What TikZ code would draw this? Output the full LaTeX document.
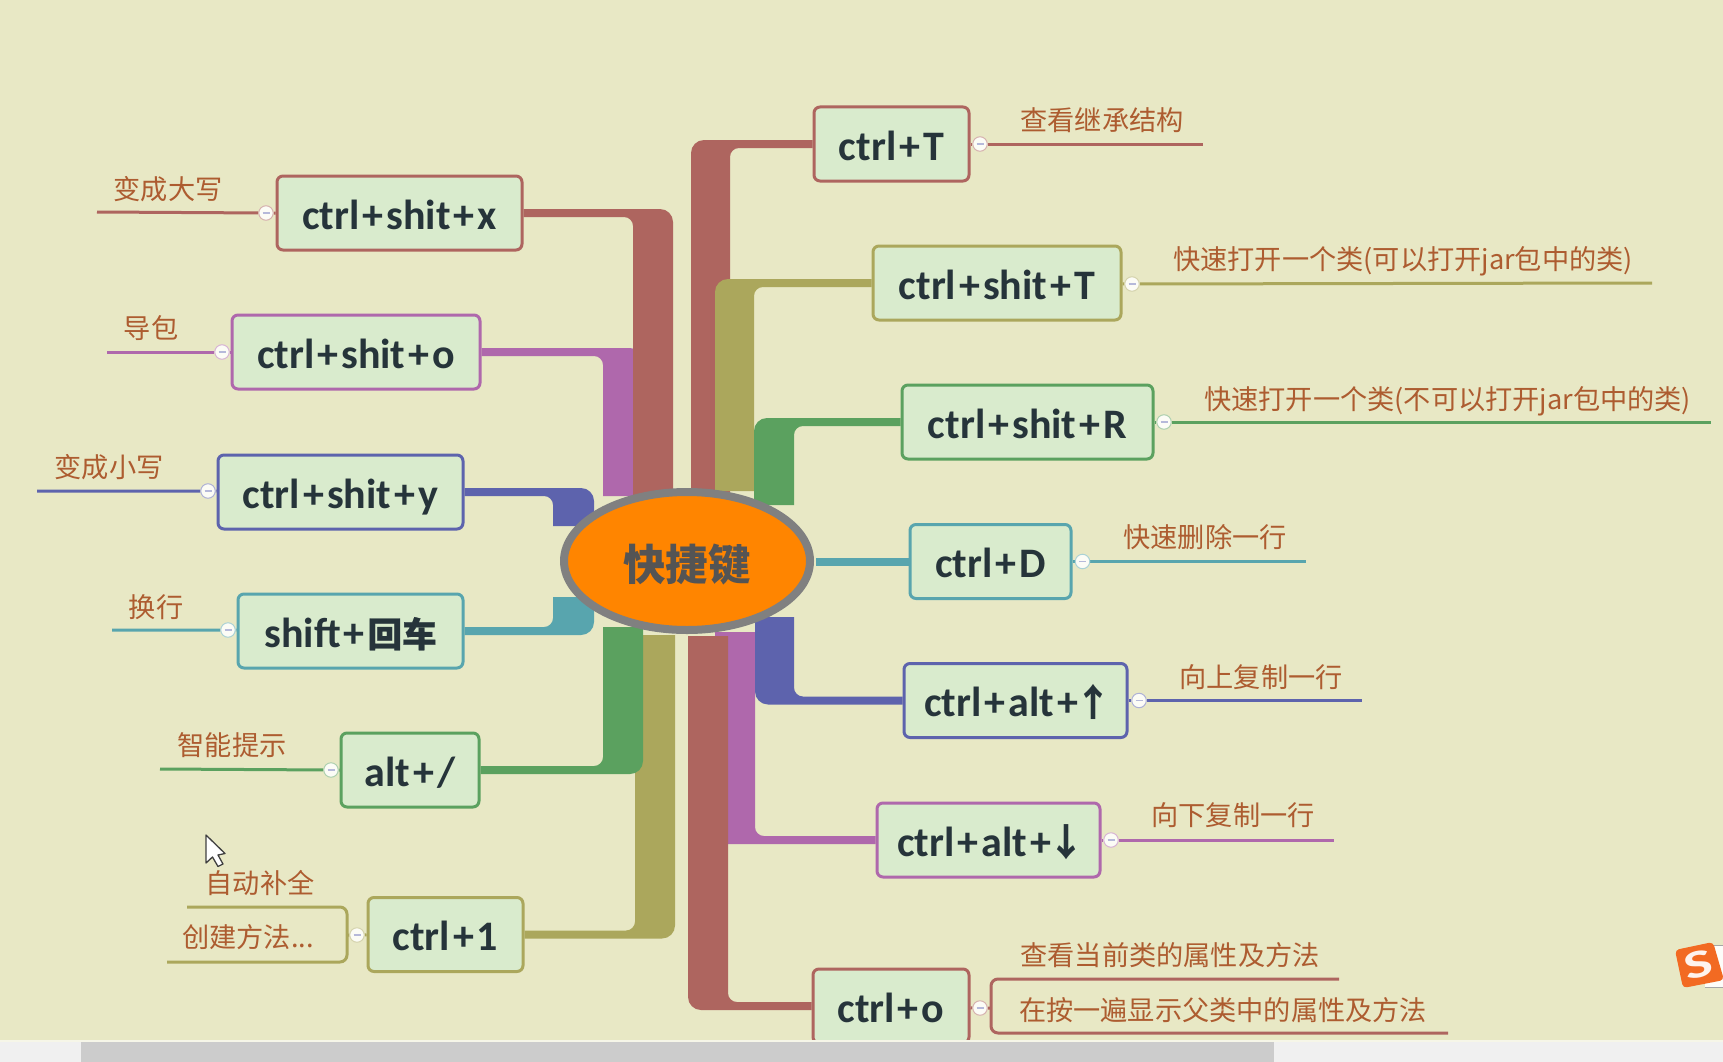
\documentclass[tikz,border=0pt]{standalone}
\usepackage{fontspec}
\setmainfont{Carlito}
\newfontfamily\cjk{Noto Sans CJK SC}
\newfontfamily\cjkm[FakeBold=0.8]{Noto Sans CJK SC}
\usetikzlibrary{calc,shapes.geometric}
\pgfdeclarelayer{back}
\pgfdeclarelayer{rib}
\pgfsetlayers{back,rib,main}
\definecolor{bg}{HTML}{E8E8C5}
\definecolor{cred}{HTML}{AE655F}
\definecolor{colive}{HTML}{ABA75C}
\definecolor{cgreen}{HTML}{5BA15F}
\definecolor{cteal}{HTML}{58A5AE}
\definecolor{cblue}{HTML}{5D63AD}
\definecolor{cviolet}{HTML}{AF68AC}
\definecolor{boxfill}{HTML}{D9EBCD}
\definecolor{keytext}{HTML}{26343A}
\definecolor{leaftext}{HTML}{AD5C30}
\definecolor{huborange}{HTML}{FF8500}
\definecolor{imeorange}{HTML}{F26A22}
\tikzset{
  kbox/.style={draw,fill=boxfill,line width=3pt,rounded corners=6pt,inner sep=0pt,minimum height=74pt,text=keytext,text height=32pt,text depth=0pt,font=\fontsize{42}{42}\selectfont\bfseries},
  leaf/.style={text=leaftext,inner sep=0pt,font=\cjk\fontsize{27.2}{30}\selectfont},
  toggle/.style={circle,draw,fill=white!85!bg,line width=1pt,minimum size=14.5pt,inner sep=0pt,path picture={\draw[line width=1.5pt,color=cblue!45!white] ([xshift=-3.5pt]path picture bounding box.center) -- ([xshift=3.5pt]path picture bounding box.center);}},
  stem/.style={line width=3pt},
  hubnode/.style={ellipse,draw=gray,fill=huborange,line width=8pt,inner sep=0pt}
}
\newcommand\plusk{\kern3pt+\kern3pt}
\newcommand\arrowk[1]{\kern-6pt{\cjk\fontsize{38}{38}\selectfont #1}\kern-6pt}
% ribbon: colour, node anchor, outer x, inner x, end y, half width (sign = direction of the vertical part)
\newcommand\rib[6]{\fill[#1] ($(#2)+(0,#6)$) [rounded corners=9pt] -- ($(#4,0 |- #2)+(0,#6)$) [sharp corners] -- (#4,#5) -- (#3,#5) [rounded corners=13pt] -- ($(#3,0 |- #2)+(0,{-1*(#6)})$) [sharp corners] -- ($(#2)+(0,{-1*(#6)})$) -- cycle;}
\begin{document}
\begin{tikzpicture}[x=1pt,y=-1pt]
\useasboundingbox (0,0) rectangle (1723,1062);
\begin{pgfonlayer}{back}
\fill[bg] (0,0) rectangle (1723,1062);
\end{pgfonlayer}

% key boxes
\node[kbox,draw=cred,minimum width=245pt] (x) at (399.5,213) {ctrl\plusk shit\plusk x};
\node[kbox,draw=cviolet,minimum width=248pt] (o) at (356,352) {ctrl\plusk shit\plusk o};
\node[kbox,draw=cblue,minimum width=245pt] (y) at (340.5,492) {ctrl\plusk shit\plusk y};
\node[kbox,draw=cteal,minimum width=225pt] (sh) at (350.5,631) {shift\plusk{\cjkm\fontsize{34.5}{34}\selectfont 回车}};
\node[kbox,draw=cgreen,minimum width=138pt] (alt) at (410,770) {alt\plusk/};
\node[kbox,draw=colive,minimum width=155pt] (one) at (445.5,934.5) {ctrl\plusk 1};
\node[kbox,draw=cred,minimum width=155pt] (T) at (891.5,144) {ctrl\plusk T};
\node[kbox,draw=colive,minimum width=248pt] (sT) at (997,283) {ctrl\plusk shit\plusk T};
\node[kbox,draw=cgreen,minimum width=251pt] (sR) at (1027.5,422) {ctrl\plusk shit\plusk R};
\node[kbox,draw=cteal,minimum width=161pt] (D) at (990.5,561.5) {ctrl\plusk D};
\node[kbox,draw=cblue,minimum width=223pt] (up) at (1015.5,700.5) {ctrl\plusk alt\plusk\arrowk{↑}};
\node[kbox,draw=cviolet,minimum width=223pt] (dn) at (988.5,840) {ctrl\plusk alt\plusk\arrowk{↓}};
\node[kbox,draw=cred,minimum width=156pt] (co) at (891,1006) {ctrl\plusk o};

% hub
\node[hubnode,minimum width=246pt,minimum height=138pt] (hub) at (687,561) {};
\node[text=black!67,font=\cjk\bfseries\fontsize{42.5}{42}\selectfont] (hubtext) at (687,565) {快捷键};

% toggles
\node[toggle,draw=cred!50!white] (tx) at (266,213) {};
\node[toggle,draw=cviolet!50!white] (to) at (222,352) {};
\node[toggle,draw=cblue!50!white] (ty) at (208,491) {};
\node[toggle,draw=cteal!50!white] (ts) at (228,630) {};
\node[toggle,draw=cgreen!50!white] (ta) at (331,770) {};
\node[toggle,draw=colive!50!white] (t1) at (357,935) {};
\node[toggle,draw=cred!50!white] (tT) at (980,144) {};
\node[toggle,draw=colive!50!white] (tsT) at (1132,284) {};
\node[toggle,draw=cgreen!50!white] (tsR) at (1164,422) {};
\node[toggle,draw=cteal!50!white] (tD) at (1082.5,561.5) {};
\node[toggle,draw=cblue!50!white] (tu) at (1139,700.5) {};
\node[toggle,draw=cviolet!50!white] (td) at (1111,840) {};
\node[toggle,draw=cred!50!white] (tc) at (980,1008) {};

% leaf free ends
\coordinate (ex) at (97,212);
\coordinate (eo) at (107,352);
\coordinate (ey) at (37,491);
\coordinate (es) at (112,630);
\coordinate (ea) at (160,769);
\coordinate (e1a) at (187,907);
\coordinate (e1b) at (167,962);
\coordinate (e1c) at (347,935);
\coordinate (eT) at (1203,144);
\coordinate (esT) at (1652,283);
\coordinate (esR) at (1711,422);
\coordinate (eD) at (1306,561.5);
\coordinate (eu) at (1362,700.5);
\coordinate (ed) at (1334,840);
\coordinate (eca) at (1339,979);
\coordinate (ecb) at (1448,1033);
\coordinate (ecc) at (991,1008);
\coordinate (sD) at (816,561.5);

% leaf labels
\node[leaf] (lx) at (168,189) {变成大写};
\node[leaf] (lo) at (151,328) {导包};
\node[leaf] (ly) at (109,467) {变成小写};
\node[leaf] (ls) at (156,607) {换行};
\node[leaf] (la) at (232,745) {智能提示};
\node[leaf] (l1a) at (260,883) {自动补全};
\node[leaf] (l1b) at (248,937) {创建方法...};
\node[leaf] (lT) at (1102,120) {查看继承结构};
\node[leaf,anchor=west] (lsT) at (1173,261) {快速打开一个类(可以打开jar包中的类)};
\node[leaf,anchor=west] (lsR) at (1204,401) {快速打开一个类(不可以打开jar包中的类)};
\node[leaf] (lD) at (1205,537) {快速删除一行};
\node[leaf] (lu) at (1261,677) {向上复制一行};
\node[leaf] (ld) at (1233,815) {向下复制一行};
\node[leaf] (lca) at (1170,955) {查看当前类的属性及方法};
\node[leaf] (lcb) at (1223,1010) {在按一遍显示父类中的属性及方法};

% connectors, behind boxes and hub
\begin{pgfonlayer}{rib}
\rib{cviolet}{dn.west}{715}{755}{632}{-4}
\rib{cred}{co.west}{688}{728}{636}{-4}
\rib{cblue}{up.west}{755}{794}{617}{-4}
\rib{cred}{T.west}{691}{730}{500}{4}
\rib{colive}{sT.west}{715}{754}{491}{4}
\rib{cgreen}{sR.west}{754}{794}{505}{4}
\rib{cviolet}{o.east}{643}{603}{496}{4}
\rib{cred}{x.east}{673}{633}{500}{4}
\rib{cblue}{y.east}{594}{553}{526}{4}
\rib{cteal}{sh.east}{594}{553}{597}{-4}
\rib{colive}{one.east}{675}{635}{635}{-4}
\rib{cgreen}{alt.east}{643}{603}{627}{-4}
\draw[cteal,line width=8pt] (sD) -- (D);
\draw[stem,cred] (x) -- (tx) -- (ex);
\draw[stem,cviolet] (o) -- (to) -- (eo);
\draw[stem,cblue] (y) -- (ty) -- (ey);
\draw[stem,cteal] (sh) -- (ts) -- (es);
\draw[stem,cgreen] (alt) -- (ta) -- (ea);
\draw[stem,colive] (one) -- (t1) -- (e1c);
\draw[stem,colive,rounded corners=7pt] (e1a) -- (347,907) -- (347,962) -- (e1b);
\draw[stem,cred] (T) -- (tT) -- (eT);
\draw[stem,colive] (sT) -- (tsT) -- (esT);
\draw[stem,cgreen] (sR) -- (tsR) -- (esR);
\draw[stem,cteal] (D) -- (tD) -- (eD);
\draw[stem,cblue] (up) -- (tu) -- (eu);
\draw[stem,cviolet] (dn) -- (td) -- (ed);
\draw[stem,cred] (co) -- (tc) -- (ecc);
\draw[stem,cred,rounded corners=7pt] (eca) -- (991,979) -- (991,1033) -- (ecb);
\end{pgfonlayer}

% scroll bar
\fill[white!94!black] (0,1040) rectangle (1723,1062);
\fill[black!20] (81,1042) rectangle (1274,1062);
\fill[white!60!bg] (0,1040) rectangle (1723,1041.5);

% mouse pointer
\draw[fill=white,draw=black!75,line width=1.3pt,line join=round] (206,835) -- (206,863) -- (212.5,857) -- (218,866.5) -- (223,864) -- (218,855) -- (225,853.5) -- cycle;

% input method badge
\fill[white!90!bg] (1705,945) rectangle (1723,987);
\draw[black!35,line width=1pt] (1705,945) -- (1723,945) (1705,987) -- (1723,987);
\fill[imeorange,rounded corners=4pt] (1675,950) -- (1713,942) -- (1724,980) -- (1683,988) -- cycle;
\node[text=white!92!imeorange,font=\bfseries\fontsize{40}{40}\selectfont,inner sep=0pt,rotate=13] (ime) at (1698,965) {\scalebox{1.5}[1]{S}};
\end{tikzpicture}
\end{document}
